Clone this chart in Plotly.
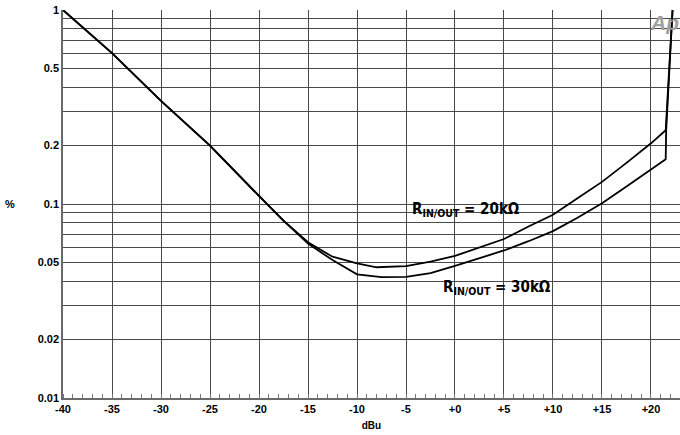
import plotly.graph_objects as go

# Data
x_20k = [-40, -35, -30, -25, -20, -17.5, -15, -12.5, -10, -8, -5, -2.5, 0, 2.5, 5, 7.5, 10, 12.5, 15, 17.5, 20, 21.5, 22.2]
y_20k = [1.0, 0.6, 0.34, 0.2, 0.11, 0.082, 0.0635, 0.0535, 0.0494, 0.0472, 0.0478, 0.0505, 0.054, 0.0595, 0.066, 0.0765, 0.088, 0.107, 0.130, 0.163, 0.2055, 0.24, 1.0]

x_30k = [-40, -35, -30, -25, -20, -17.5, -15, -12.5, -10, -7.5, -5, -2.5, 0, 2.5, 5, 7.5, 10, 12.5, 15, 17.5, 20, 21.5, 21.55, 22.2]
y_30k = [1.0, 0.6, 0.34, 0.2, 0.11, 0.082, 0.0625, 0.0514, 0.0434, 0.042, 0.0421, 0.044, 0.048, 0.0525, 0.0576, 0.0643, 0.0725, 0.085, 0.1008, 0.123, 0.1497, 0.17, 0.24, 1.0]

x_ticks = [-40, -35, -30, -25, -20, -15, -10, -5, 0, 5, 10, 15, 20]
x_ticktext = ["-40", "-35", "-30", "-25", "-20", "-15", "-10", "-5", "+0", "+5", "+10", "+15", "+20"]
y_ticks = [0.01, 0.02, 0.05, 0.1, 0.2, 0.5, 1]
y_ticktext = ["0.01", "0.02", "0.05", "0.1", "0.2", "0.5", "1"]
y_minor = [0.03, 0.04, 0.06, 0.07, 0.08, 0.09, 0.3, 0.4, 0.6, 0.7, 0.8, 0.9]
x_minor = list(range(-40, 23))

label_font = dict(family="Liberation Sans Narrow, DejaVu Sans Condensed, Liberation Sans", size=15, color="black", weight="bold")
tick_font = dict(family="Liberation Sans, Arial", size=11, color="black", weight="bold")

fig = go.Figure()
fig.add_trace(go.Scatter(x=x_20k, y=y_20k, mode="lines", line=dict(color="black", width=1.8), showlegend=False))
fig.add_trace(go.Scatter(x=x_30k, y=y_30k, mode="lines", line=dict(color="black", width=1.8), showlegend=False))

fig.update_layout(
    width=680, height=435,
    margin=dict(l=63, r=0, t=10, b=37),
    paper_bgcolor="white", plot_bgcolor="white",
    xaxis=dict(
        range=[-40, 22.96], tickvals=x_ticks, ticktext=x_ticktext,
        showgrid=True, gridcolor="#4a4a4a", gridwidth=1,
        ticks="", tickfont=tick_font, zeroline=False,
        showline=True, linecolor="#6a6a6a", linewidth=1.5,
        minor=dict(tickvals=x_minor, ticks="inside", ticklen=4, tickcolor="#777777", tickwidth=1, showgrid=False),
        title=dict(text="dBu", font=dict(family="Liberation Sans, Arial", size=10, color="black", weight="bold"), standoff=8),
    ),
    yaxis=dict(
        type="log", range=[-2, 0], tickvals=y_ticks, ticktext=y_ticktext,
        showgrid=True, gridcolor="#4a4a4a", gridwidth=1,
        ticks="", tickfont=tick_font, zeroline=False,
        showline=True, linecolor="#6a6a6a", linewidth=1.5,
        minor=dict(tickvals=y_minor, showgrid=True, gridcolor="#4a4a4a", gridwidth=1, ticks=""),
    ),
)

fig.add_annotation(x=-4.6, y=-1.03, xref="x", yref="y", text="R<sub>IN/OUT</sub> = 20kΩ",
                   showarrow=False, xanchor="left", yanchor="middle", font=label_font)
fig.add_annotation(x=-1.4, y=-1.43, xref="x", yref="y", text="R<sub>IN/OUT</sub> = 30kΩ",
                   showarrow=False, xanchor="left", yanchor="middle", font=label_font)

pw = 680 - 63
ph = 435 - 10 - 37
fig.add_annotation(x=(10 - 63) / pw, y=(398 - 204) / ph, xref="paper", yref="paper", text="%",
                   showarrow=False, xanchor="center", yanchor="middle",
                   font=dict(family="Liberation Sans, Arial", size=11, color="black", weight="bold"))
fig.add_annotation(x=1, y=1, xref="paper", yref="paper", text="<i>Ap</i>", showarrow=False,
                   xanchor="right", yanchor="top", xshift=1, yshift=1,
                   font=dict(family="Liberation Sans, Arial", size=21, color="#a0a0a0", weight="bold"))

fig.write_html("out.html")
